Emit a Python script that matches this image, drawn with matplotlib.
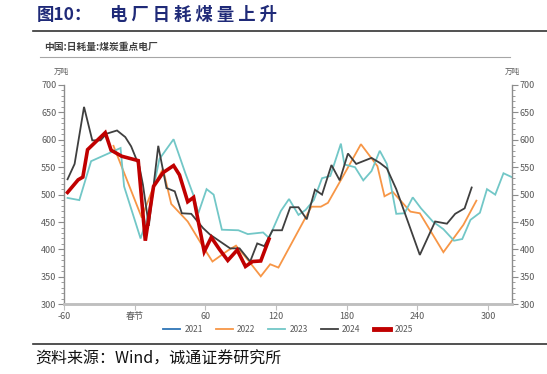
import matplotlib
matplotlib.use("Agg")
import matplotlib.pyplot as plt
from matplotlib.ticker import MultipleLocator
from matplotlib.lines import Line2D

plt.rcParams['font.family'] = ['Noto Sans CJK SC', 'DejaVu Sans']

# data: days relative to Spring Festival, daily coal burn (10k t)
x2021, v2021 = [], []
x2022 = [-18, 6, 16, 24, 31, 45, 58, 66, 79, 86, 96, 107, 115, 122, 150, 158, 164,
         178, 192, 206, 212, 219, 234, 242, 262, 279, 290]
v2022 = [589, 458, 515, 547, 483, 451, 405, 378, 398, 407, 381, 351, 373, 367, 478, 478, 485,
         538, 592, 552, 497, 505, 469, 466, 395, 445, 489]
x2023 = [-57, -47, -37, -12, -9, 5, 11, 21, 33, 43, 50, 54, 61, 67, 74, 88, 96, 109, 114,
         124, 131, 139, 145, 152, 159, 166, 175, 178, 187, 194, 201, 208, 214, 222, 229,
         236, 243, 253, 262, 271, 278, 285, 293, 299, 306, 313, 320]
v2023 = [494, 490, 561, 585, 515, 420, 460, 565, 601, 539, 498, 466, 510, 500, 436, 435, 428, 431, 421,
         470, 492, 463, 472, 490, 530, 534, 593, 555, 550, 526, 543, 580, 556, 465, 466,
         495, 475, 451, 437, 416, 419, 454, 467, 510, 500, 539, 532]
x2024 = [-57, -51, -43, -36, -29, -24, -15, -8, -3, 4, 7, 12, 20, 27, 34, 40, 48, 58, 64,
         81, 89, 98, 104, 110, 117, 125, 132, 139, 146, 153, 159, 167, 174, 181, 188, 201,
         208, 214, 222, 242, 255, 265, 272, 280, 286]
v2024 = [528, 556, 660, 599, 599, 611, 617, 605, 588, 551, 518, 443, 589, 512, 506, 466, 465, 439, 427,
         402, 402, 378, 411, 406, 435, 435, 477, 477, 455, 509, 500, 554, 526, 575, 556, 567,
         558, 548, 510, 390, 451, 447, 465, 475, 513]
x2025 = [-57, -48, -44, -40, -25, -20, -11, 3, 9, 16, 24, 33, 38, 45, 50, 59, 65, 72, 79,
         87, 94, 100, 107, 114]
v2025 = [504, 527, 532, 582, 613, 581, 570, 562, 416, 515, 540, 553, 536, 487, 495, 396, 422, 400, 380,
         399, 369, 378, 379, 419]

xticks = [-60, 0, 60, 120, 180, 240, 300]
xticklabels = ['-60', '春节', '60', '120', '180', '240', '300']

series = [('2021', x2021, v2021, '#2e75b6', 1.3),
          ('2022', x2022, v2022, '#f79646', 1.3),
          ('2023', x2023, v2023, '#72c7c7', 1.3),
          ('2024', x2024, v2024, '#3f3f3f', 1.3),
          ('2025', x2025, v2025, '#c00000', 2.6)]

fig = plt.figure(figsize=(5.47, 3.74), dpi=100)
ax = fig.add_axes([0.117, 0.1864, 0.8196, 0.5864])

for name, xs, vs, c, lw in series:
    ax.plot(xs, vs, color=c, lw=lw, solid_joinstyle='miter')

ax.set_xlim(-60, 320.5)
ax.set_ylim(300, 700)
ax.set_xticks(xticks)
ax.set_xticklabels(xticklabels)
ax.yaxis.set_major_locator(MultipleLocator(50))
ax.yaxis.set_minor_locator(MultipleLocator(10))

ax2 = ax.twinx()
ax2.set_ylim(300, 700)
ax2.yaxis.set_major_locator(MultipleLocator(50))
ax2.yaxis.set_minor_locator(MultipleLocator(10))

gray = '#8c8c8c'
for a in (ax, ax2):
    a.spines['top'].set_visible(False)
    for s in ('left', 'right'):
        a.spines[s].set_color(gray)
        a.spines[s].set_linewidth(1.0)
    a.spines['bottom'].set_color('#bfbfbf')
    a.spines['bottom'].set_linewidth(1.8)
    a.tick_params(axis='both', which='major', labelsize=6.5, labelcolor='#595959',
                  color=gray, length=4, width=0.8, pad=1.5)
    a.tick_params(axis='y', which='minor', color=gray, length=2, width=0.6)
ax.spines['right'].set_visible(False)
ax2.spines['left'].set_visible(False)
ax.tick_params(axis='x', colors='#bfbfbf', labelcolor='#595959')

ax.text(-62, 716, '万吨', fontsize=5.5, color='#595959', ha='center', va='bottom')
ax.text(320.5, 716, '万吨', fontsize=5.5, color='#595959', ha='center', va='bottom')

handles = [Line2D([], [], color=c, lw=lw if name != '2025' else 3.5) for name, _, _, c, lw in series]
ax.legend(handles, [s[0] for s in series], loc='center', bbox_to_anchor=(0.5, -0.115),
          ncol=5, frameon=False, fontsize=6, handlelength=2.0, columnspacing=1.6,
          handletextpad=0.5, labelcolor='#595959')

# header and footer
fig.text(37 / 547, 1 - 15 / 374, '图10：', fontsize=12.5, fontweight='bold', color='#1f2a78',
         va='center', ha='left')
fig.text(110 / 547, 1 - 15 / 374, '电 厂 日 耗 煤 量 上 升', fontsize=12.5, fontweight='bold',
         color='#1f2a78', va='center', ha='left')
fig.add_artist(Line2D([33 / 547, 1], [1 - 31 / 374] * 2, color='#333333', lw=1.2))
fig.text(44 / 547, 1 - 47 / 374, '中国:日耗量:煤炭重点电厂', fontsize=7, fontweight='bold',
         color='#404040', va='center', ha='left')
fig.add_artist(Line2D([40 / 547, 510 / 547], [1 - 57 / 374] * 2, color='#a6a6a6', lw=0.8))
fig.add_artist(Line2D([33 / 547, 1], [1 - 344 / 374] * 2, color='#333333', lw=1.2))
fig.text(35 / 547, 1 - 359 / 374, '资料来源：Wind，诚通证券研究所', fontsize=11.5,
         color='#111111', va='center', ha='left')

fig.savefig('out.png', dpi=100)
